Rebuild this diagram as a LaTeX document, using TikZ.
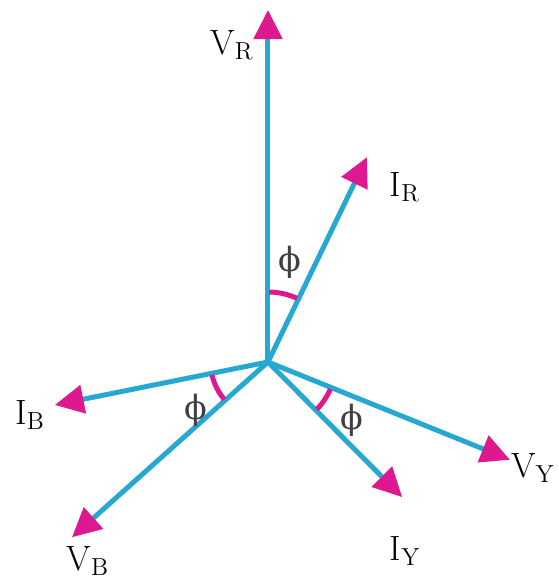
\documentclass[tikz,border=0pt]{standalone}
\usepackage{fontspec}
\newfontfamily\grkfont{DejaVu Serif}
\usetikzlibrary{arrows.meta}
\definecolor{phasor}{RGB}{38,168,210}
\definecolor{tipmag}{RGB}{222,24,142}

\begin{document}
\begin{tikzpicture}[
  phline/.style={line width=0.1cm,phasor,-{Triangle[length=5.8mm,width=5.6mm,color=tipmag]}},
  anglemark/.style={line width=0.1cm,tipmag},
  lab/.style={font=\fontsize{20}{24}\selectfont,inner sep=0pt},
  philab/.style={font=\grkfont\fontsize{19}{22}\selectfont,text=black!75,inner sep=0pt},
]
\useasboundingbox (-5.36,-4.44) rectangle (5.8,7.24);
\coordinate (O) at (0,0);
\coordinate (vr) at (90:7.04);
\coordinate (ir) at (64.2:4.55);
\coordinate (vy) at (-22:5.22);
\coordinate (iy) at (-45.2:3.81);
\coordinate (vb) at (221.8:5.26);
\coordinate (ib) at (191.4:4.35);
\draw[phline] (O) -- (vr);
\draw[phline] (O) -- (ir);
\draw[phline] (O) -- (vy);
\draw[phline] (O) -- (iy);
\draw[phline] (O) -- (vb);
\draw[phline] (O) -- (ib);
% angle marks
\draw[anglemark] (O) ++(89:1.4) arc (89:65.5:1.4);
\draw[anglemark] (O) ++(193:1.15) arc (193:220.5:1.15);
\draw[anglemark] (O) ++(-23.5:1.36) arc (-23.5:-44:1.36);
\node[lab] (lvr) at (-0.72,6.34) {$\mathrm{V_R}$};
\node[lab] (lir) at (2.74,3.50) {$\mathrm{I_R}$};
\node[lab] (lib) at (-4.76,-1.06) {$\mathrm{I_B}$};
\node[lab] (lvb) at (-3.6,-3.98) {$\mathrm{V_B}$};
\node[lab] (lvy) at (5.3,-2.12) {$\mathrm{V_Y}$};
\node[lab] (liy) at (2.74,-3.78) {$\mathrm{I_Y}$};
\node[philab] (p1) at (0.44,2.0) {ϕ};
\node[philab] (p2) at (-1.44,-0.96) {ϕ};
\node[philab] (p3) at (1.68,-1.16) {ϕ};
\end{tikzpicture}
\end{document}
